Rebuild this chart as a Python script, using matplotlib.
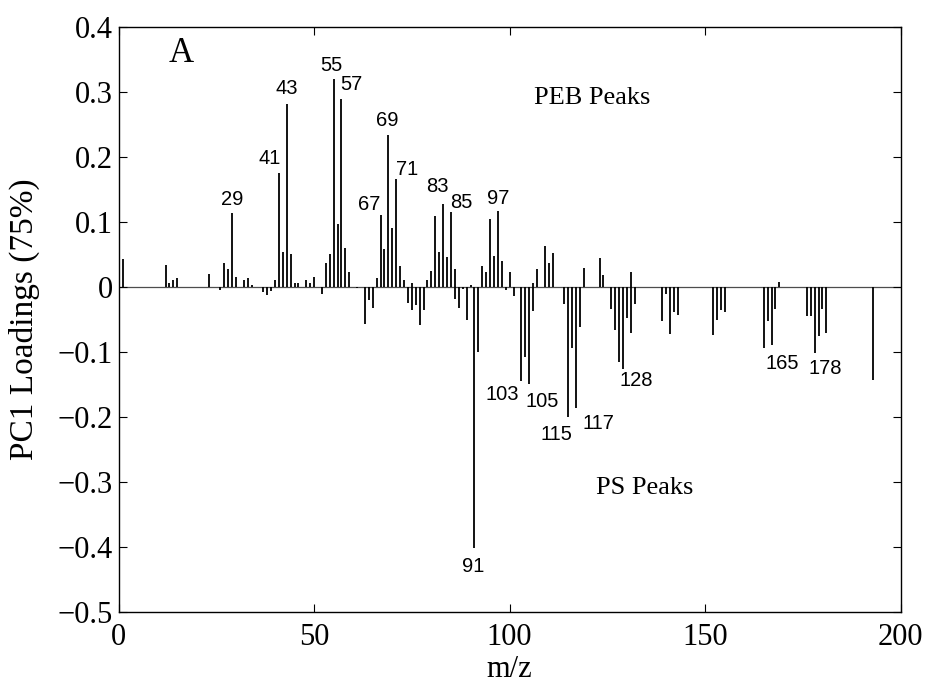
import matplotlib
matplotlib.use('Agg')
import matplotlib.pyplot as plt

# m/z and PC1 loading values
mz = [1, 12, 13, 14, 15, 23, 26, 27, 28, 29, 30, 32, 33, 34, 37, 38, 39, 40,
      41, 42, 43, 44, 45, 46, 48, 49, 50, 52, 53, 54, 55, 56, 57, 58, 59, 61,
      63, 64, 65, 66, 67, 68, 69, 70, 71, 72, 73, 74, 75, 75, 76, 77, 78, 79,
      80, 81, 82, 83, 84, 85, 86, 86, 87, 88, 89, 90, 91, 92, 93, 94, 95, 96,
      97, 98, 99, 100, 101, 103, 104, 105, 106, 106, 107, 109, 110, 111, 114,
      115, 116, 117, 118, 119, 123, 124, 126, 127, 128, 129, 130, 131, 131,
      132, 139, 140, 141, 142, 143, 152, 153, 154, 155, 165, 166, 167, 168,
      169, 176, 177, 178, 179, 180, 181, 193]
loading = [0.042, 0.034, 0.006, 0.010, 0.013, 0.020, -0.005, 0.037, 0.027,
           0.113, 0.015, 0.011, 0.014, 0.003, -0.008, -0.013, -0.007, 0.011,
           0.175, 0.054, 0.281, 0.051, 0.006, 0.005, 0.011, 0.006, 0.015,
           -0.011, 0.037, 0.050, 0.320, 0.096, 0.289, 0.060, 0.023, -0.002,
           -0.057, -0.021, -0.033, 0.013, 0.111, 0.058, 0.234, 0.090, 0.166,
           0.032, 0.010, -0.025, 0.006, -0.036, -0.028, -0.059, -0.036, 0.010,
           0.024, 0.109, 0.053, 0.128, 0.045, 0.115, 0.028, -0.019, -0.032,
           -0.003, -0.051, 0.003, -0.402, -0.101, 0.032, 0.023, 0.104, 0.047,
           0.116, 0.040, -0.005, 0.022, -0.014, -0.145, -0.108, -0.150, 0.006,
           -0.038, 0.028, 0.062, 0.036, 0.052, -0.027, -0.201, -0.095, -0.187,
           -0.062, 0.029, 0.044, 0.018, -0.035, -0.066, -0.116, -0.126, -0.048,
           0.023, -0.072, -0.027, -0.053, -0.011, -0.073, -0.039, -0.043,
           -0.075, -0.051, -0.036, -0.039, -0.094, -0.052, -0.089, -0.034,
           0.007, -0.045, -0.045, -0.102, -0.076, -0.035, -0.071, -0.144]

# labelled peaks (value taken from the lists above)
peak_labels = [29, 41, 43, 55, 57, 67, 69, 71, 83, 85, 97,
               91, 103, 105, 115, 117, 128, 165, 178]
# label offsets in points from the end of the stick
label_offsets = {29: (0, 10), 41: (-6.5, 10.5), 43: (0, 11), 55: (-1.5, 9.5),
                 57: (7, 10), 67: (-8.5, 7.5), 69: (-1, 10.5), 71: (7.5, 7),
                 83: (-4.5, 12), 85: (7.5, 6.5), 97: (0.5, 9),
                 91: (-1, -13), 103: (-14, -10), 105: (9.5, -12.5),
                 115: (-8.5, -12.5), 117: (16, -11), 128: (12, -13.5),
                 165: (13, -11.5), 178: (7.5, -11)}

yticks = [-0.5, -0.4, -0.3, -0.2, -0.1, 0, 0.1, 0.2, 0.3, 0.4]
ytick_labels = ['\u22120.5', '\u22120.4', '\u22120.3', '\u22120.2', '\u22120.1',
                '0', '0.1', '0.2', '0.3', '0.4']
xticks = [0, 50, 100, 150, 200]

serif = 'Liberation Serif'
sans = 'Liberation Sans'

fig = plt.figure(figsize=(9.28, 6.83), dpi=100)
ax = fig.add_axes([0.1278, 0.1044, 0.8427, 0.8565])

ax.axhline(0, color='0.3', lw=0.9, zorder=1)
ax.vlines(mz, 0, loading, colors='black', lw=1.3, zorder=2)

for p in peak_labels:
    v = loading[mz.index(p)]
    ax.annotate(str(p), xy=(p, v), xytext=label_offsets[p],
                textcoords='offset points', ha='center', va='center',
                fontsize=14.5, family=sans)

ax.text(16, 0.359, 'A', fontsize=25, family=serif, ha='center', va='center')
ax.text(121, 0.29, 'PEB Peaks', fontsize=19, family=serif, ha='center', va='center')
ax.text(134.5, -0.31, 'PS Peaks', fontsize=19, family=serif, ha='center', va='center')

ax.set_xlim(0, 200)
ax.set_ylim(-0.5, 0.4)
ax.set_xticks(xticks)
ax.set_xticklabels([str(t) for t in xticks], family=serif, fontsize=22)
ax.set_yticks(yticks)
ax.set_yticklabels(ytick_labels, family=serif, fontsize=22)
ax.tick_params(direction='in', length=5.5, width=0.8, top=True, right=True)
ax.tick_params(axis='x', pad=8)
ax.tick_params(axis='y', pad=4)
for s in ax.spines.values():
    s.set_linewidth(1.0)

ax.set_xlabel('m/z', family=serif, fontsize=22, labelpad=2)
ax.set_ylabel('PC1 Loadings (75%)', family=serif, fontsize=24, labelpad=13)

fig.savefig('out.png', dpi=100)
